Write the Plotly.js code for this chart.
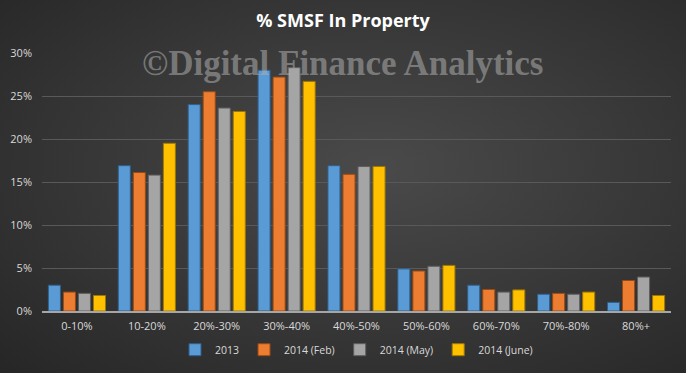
<!DOCTYPE html>
<html>
<head>
<meta charset="utf-8">
<script src="https://cdn.plot.ly/plotly-3.0.1.min.js"></script>
<style>
  html, body { margin: 0; padding: 0; }
  #chart {
    width: 686px; height: 373px;
    background: radial-gradient(ellipse at 55% 45%, #4a4a4a 0%, #3a3a3a 45%, #262626 100%);
  }
</style>
</head>
<body>
<div id="chart"></div>
<script>
const categories = ["0-10%", "10-20%", "20%-30%", "30%-40%", "40%-50%", "50%-60%", "60%-70%", "70%-80%", "80%+"];
const s2013    = [3.0, 16.9, 24.0, 28.0, 16.9, 4.9, 3.0, 1.95, 1.0];
const sFeb2014 = [2.2, 16.1, 25.5, 27.2, 15.9, 4.65, 2.5, 2.05, 3.55];
const sMay2014 = [2.05, 15.8, 23.6, 28.3, 16.8, 5.2, 2.2, 1.95, 3.95];
const sJun2014 = [1.8, 19.5, 23.2, 26.7, 16.8, 5.3, 2.45, 2.2, 1.8];
const seriesNames = ["2013", "2014 (Feb)", "2014 (May)", "2014 (June)"];
const yTicks = [0, 5, 10, 15, 20, 25, 30];

const colors = ["#5b9bd5", "#ed7d31", "#a5a5a5", "#ffc000"];
const edges  = ["#2e5f8c", "#9a4a14", "#5e5e5e", "#a07800"];
const allSeries = [s2013, sFeb2014, sMay2014, sJun2014];

const traces = allSeries.map((vals, i) => ({
  type: "bar",
  name: seriesNames[i],
  x: categories,
  y: vals,
  marker: { color: colors[i], line: { color: edges[i], width: 1 } },
  hoverinfo: "x+y+name"
}));

const layout = {
  width: 686, height: 373,
  paper_bgcolor: "rgba(0,0,0,0)",
  plot_bgcolor: "rgba(0,0,0,0)",
  margin: { l: 42, r: 15, t: 53, b: 62, autoexpand: false },
  barmode: "group",
  bargap: 0.14,
  bargroupgap: 0.2,
  title: {
    text: "% SMSF In Property",
    font: { family: "Open Sans, DejaVu Sans, sans-serif", size: 18, color: "#ffffff", weight: "bold" },
    x: 0.5, xanchor: "center", y: 0.945, yanchor: "middle"
  },
  xaxis: {
    type: "category",
    showgrid: false,
    showline: true, linecolor: "#a6a6a6", linewidth: 1.5,
    ticks: "", ticklabelstandoff: 4,
    tickfont: { family: "Open Sans, DejaVu Sans, sans-serif", size: 11, color: "#d9d9d9" },
    zeroline: false
  },
  yaxis: {
    range: [0, 30],
    tickvals: yTicks,
    ticktext: yTicks.map(v => v + "%"),
    showgrid: true, gridcolor: "#595959", gridwidth: 1,
    zeroline: false, showline: false,
    ticks: "", ticklabelstandoff: 9,
    tickfont: { family: "Open Sans, DejaVu Sans, sans-serif", size: 11, color: "#d9d9d9" },
    fixedrange: true
  },
  legend: {
    orientation: "h",
    x: 0.5, xanchor: "center",
    y: -0.15, yanchor: "middle",
    font: { family: "Open Sans, DejaVu Sans, sans-serif", size: 10.5, color: "#d9d9d9" },
    itemwidth: 30,
    traceorder: "normal",
    bgcolor: "rgba(0,0,0,0)"
  },
  annotations: [{
    text: "©Digital Finance Analytics",
    xref: "paper", yref: "paper",
    x: 0.477, y: 0.96, xanchor: "center", yanchor: "middle",
    showarrow: false,
    font: { family: "Liberation Serif, serif", size: 35, color: "rgba(175,175,175,0.55)", weight: "bold" }
  }],
  showlegend: true
};

Plotly.newPlot("chart", traces, layout, { displayModeBar: false, staticPlot: true });
</script>
</body>
</html>
